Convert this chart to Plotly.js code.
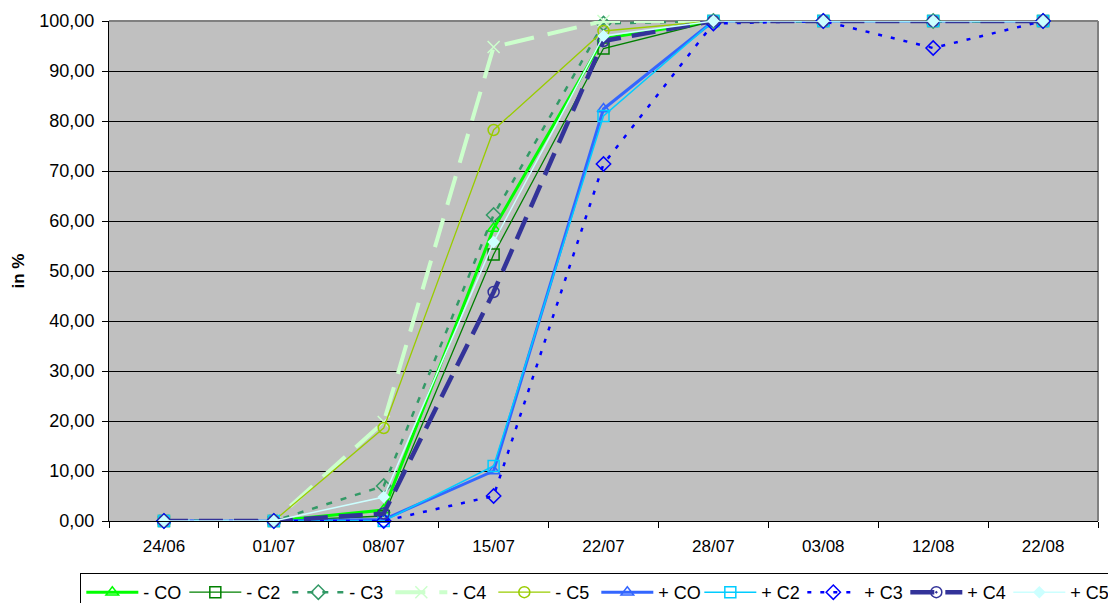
<!DOCTYPE html>
<html>
<head>
<meta charset="utf-8">
<script src="https://cdn.plot.ly/plotly-3.0.1.min.js"></script>
<style>html,body{margin:0;padding:0;background:#fff;}#chart{width:1108px;height:603px;}</style>
</head>
<body>
<div id="chart"></div>
<script>
const categories = ["24/06","01/07","08/07","15/07","22/07","28/07","03/08","12/08","22/08"];
const seriesNames = ["- CO","- C2","- C3","- C4","- C5","+ CO","+ C2","+ C3","+ C4","+ C5"];
const minusCO = [0,0,2.2,58.5,96.5,100,100,100,100];
const minusC2 = [0,0,1.0,53.3,94.5,100,100,100,100];
const minusC3 = [0,0,7.0,61.2,99.5,100,100,100,100];
const minusC4 = [0,0,19.8,94.8,100,100,100,100,100];
const minusC5 = [0,0,18.6,78.2,98.0,100,100,100,100];
const plusCO = [0,0,0.3,10.0,82.4,100,100,100,100];
const plusC2 = [0,0,0,11.0,81.0,100,100,100,100];
const plusC3 = [0,0,0,5.0,71.4,99.5,100,94.6,100];
const plusC4 = [0,0,1.5,45.8,96.0,100,100,100,100];
const plusC5 = [0,0,4.8,55.8,97.0,100,100,100,100];
const yTicks = [0,10,20,30,40,50,60,70,80,90,100];

const values = [minusCO,minusC2,minusC3,minusC4,minusC5,plusCO,plusC2,plusC3,plusC4,plusC5];
const styles = [
  {color:"#00ff00", width:3,   dash:"solid",      symbol:"triangle-up-open", size:11},
  {color:"#008000", width:1.3, dash:"solid",      symbol:"square-open",      size:11},
  {color:"#339966", width:2.5, dash:"6px,9px",    symbol:"diamond-open",     size:11},
  {color:"#ccffcc", width:4,   dash:"30px,14px",  symbol:"x-thin-open",      size:12},
  {color:"#99cc00", width:1.3, dash:"solid",      symbol:"circle-open",      size:11},
  {color:"#3366ff", width:3,   dash:"solid",      symbol:"triangle-up-open", size:11},
  {color:"#00ccff", width:1.5, dash:"solid",      symbol:"square-open",      size:11},
  {color:"#0000ff", width:2.5, dash:"4px,9px",    symbol:"diamond-open",     size:11},
  {color:"#333399", width:4.5, dash:"24px,11px",  symbol:"circle-open-dot",  size:11},
  {color:"#ccffff", width:1.5, dash:"solid",      symbol:"diamond",          size:8}
];

const traces = values.map((v,i)=>({
  type:"scatter", mode:"lines+markers", x:categories, y:v, name:seriesNames[i],
  cliponaxis:false,
  line:{color:styles[i].color, width:styles[i].width, dash:styles[i].dash},
  marker:{symbol:styles[i].symbol, size:styles[i].size, color:styles[i].color,
          line:{color:styles[i].color, width:1.5}}
}));

const layout = {
  width:1108, height:603,
  margin:{l:109, r:10, t:21, b:82, autoexpand:false},
  paper_bgcolor:"#ffffff", plot_bgcolor:"#c0c0c0",
  separators:",.",
  font:{family:"Liberation Sans, Arial, sans-serif", size:18, color:"#000"},
  showlegend:true,
  legend:{orientation:"h", x:-0.029, xanchor:"left", y:-0.104, yanchor:"top",
          bordercolor:"#000", borderwidth:1, bgcolor:"#fff",
          font:{size:18}, itemwidth:52, entrywidth:36, traceorder:"normal", tracegroupgap:0},
  xaxis:{type:"category", range:[-0.5,8.5], tickson:"boundaries", ticks:"outside",
         ticklen:6, tickcolor:"#000", showline:true, linecolor:"#000", linewidth:1,
         showgrid:false, zeroline:false, tickfont:{size:17}, ticklabelstandoff:10, fixedrange:true},
  yaxis:{range:[0,100], tickvals:yTicks, tickformat:".2f", ticks:"outside", ticklen:6,
         tickcolor:"#000", showline:true, linecolor:"#000", linewidth:1,
         showgrid:true, gridcolor:"#000", gridwidth:1, zeroline:false,
         tickfont:{size:18}, ticklabelstandoff:4,
         title:{text:"<b>in %</b>", font:{size:17}, standoff:10}},
  shapes:[{type:"line", xref:"paper", yref:"paper", x0:0, x1:1, y0:1, y1:1, line:{color:"#808080", width:2}, layer:"below"},
          {type:"line", xref:"paper", yref:"paper", x0:1, x1:1, y0:0, y1:1, line:{color:"#808080", width:2}, layer:"below"}]
};
Plotly.newPlot("chart", traces, layout, {displayModeBar:false, staticPlot:true});
</script>
</body>
</html>
